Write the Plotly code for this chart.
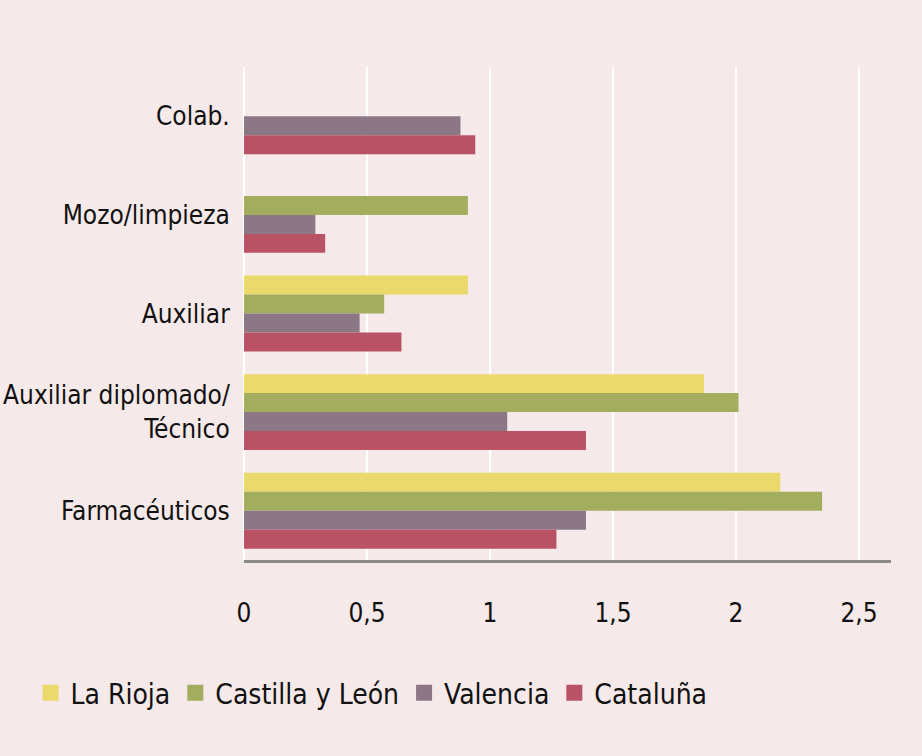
import plotly.graph_objects as go

categories = ["Colab.", "Mozo/limpieza", "Auxiliar", "Auxiliar diplomado/<br>Técnico", "Farmacéuticos"]
series_names = ["La Rioja", "Castilla y León", "Valencia", "Cataluña"]
la_rioja = [None, None, 0.91, 1.87, 2.18]
castilla = [None, 0.91, 0.57, 2.01, 2.35]
valencia = [0.88, 0.29, 0.47, 1.07, 1.39]
cataluna = [0.94, 0.33, 0.64, 1.39, 1.27]
tick_vals = [0, 0.5, 1, 1.5, 2, 2.5]
tick_text = ["0", "0,5", "1", "1,5", "2", "2,5"]

colors = ["#ecd96b", "#a3ad5e", "#8c7787", "#b85264"]
values = [la_rioja, castilla, valencia, cataluna]

FONT = "DejaVu Sans Condensed, Liberation Sans Narrow, Roboto"

fig = go.Figure()
for name, vals, col in zip(series_names, values, colors):
    fig.add_trace(go.Bar(y=categories, x=vals, name=name, orientation="h",
                         legendgroup=name, showlegend=False,
                         marker=dict(color=col, line=dict(width=0))))
# legend entries with larger square swatches
for name, col in zip(series_names, colors):
    fig.add_trace(go.Scatter(x=[None], y=[None], mode="markers", name=name,
                             legendgroup=name, showlegend=True,
                             marker=dict(symbol="square", size=20, color=col)))

fig.update_layout(
    width=922, height=756,
    barmode="group", bargap=0.23, bargroupgap=0,
    paper_bgcolor="#f6e9e9", plot_bgcolor="#f6e9e9",
    margin=dict(l=244, r=31, t=67, b=196, autoexpand=False),
    font=dict(family=FONT, size=26, color="#111111"),
    showlegend=True,
    legend=dict(orientation="h", x=-0.33, xanchor="left", xref="paper",
                y=-0.27, yanchor="middle", font=dict(size=28, family=FONT),
                itemwidth=30, bgcolor="rgba(0,0,0,0)"),
    xaxis=dict(range=[0, 2.63], tickvals=tick_vals, ticktext=tick_text, automargin=False,
               showgrid=True, gridcolor="#ffffff", gridwidth=1.5,
               zeroline=True, zerolinecolor="#ffffff", zerolinewidth=1.5,
               showline=True, linecolor="#8a8a8a", linewidth=3,
               ticks="outside", ticklen=28, tickcolor="rgba(0,0,0,0)",
               tickfont=dict(size=26, family=FONT), fixedrange=True),
    yaxis=dict(autorange="reversed", showgrid=False, showline=False, automargin=False,
               ticks="outside", ticklen=8, tickcolor="rgba(0,0,0,0)",
               tickfont=dict(size=26, family=FONT), fixedrange=True),
)

fig.write_html("out.html", config={"displayModeBar": False},
               post_script="document.body.style.margin='0';")
